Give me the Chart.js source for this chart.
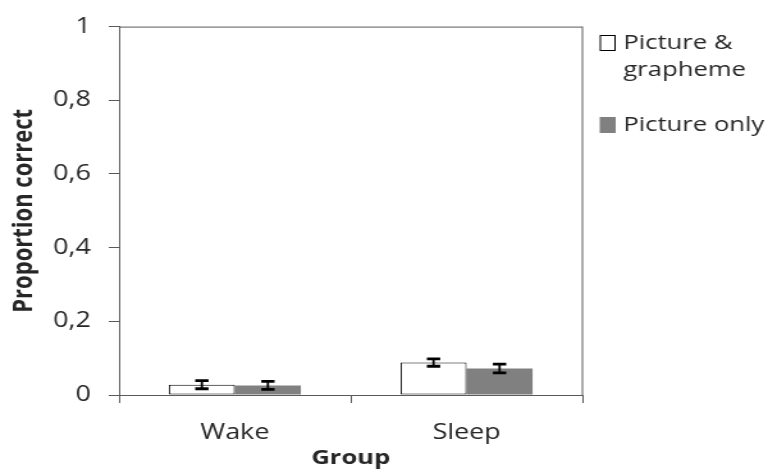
<!DOCTYPE html>
<html>
<head>
<meta charset="utf-8">
<script src="https://cdn.jsdelivr.net/npm/chart.js@4.4.1/dist/chart.umd.min.js"></script>
<style>
  html, body { margin: 0; padding: 0; background: #fff; overflow: hidden; }
</style>
</head>
<body>
<canvas id="c" width="600" height="473" style="display:block;width:768px;height:473px"></canvas>
<script>
// Proportion correct per group, with standard errors
const groups = ['Wake', 'Sleep'];
const seriesNames = ['Picture & grapheme', 'Picture only'];
const pictureGrapheme = [0.028, 0.088];
const pictureGraphemeErr = [0.011, 0.010];
const pictureOnly = [0.026, 0.072];
const pictureOnlyErr = [0.011, 0.012];
const yTicks = [0, 0.2, 0.4, 0.6, 0.8, 1];

const FONT = '"Open Sans", "DejaVu Sans", sans-serif';
const TEXT = '#262626';
const AXIS = '#5a5a5a';

// vertical error bars with caps
const errorBars = {
  id: 'errorBars',
  afterDatasetsDraw(chart) {
    const ctx = chart.ctx;
    const y = chart.scales.y;
    ctx.save();
    ctx.strokeStyle = '#000';
    chart.data.datasets.forEach((ds, i) => {
      const meta = chart.getDatasetMeta(i);
      meta.data.forEach((bar, j) => {
        const v = ds.data[j], e = ds.errors[j];
        const yHi = y.getPixelForValue(v + e);
        const yLo = y.getPixelForValue(v - e);
        ctx.lineWidth = 1.8;
        ctx.beginPath();
        ctx.moveTo(bar.x, yHi);
        ctx.lineTo(bar.x, yLo);
        ctx.stroke();
        ctx.lineWidth = 2.8;
        ctx.beginPath();
        ctx.moveTo(bar.x - 5.2, yHi); ctx.lineTo(bar.x + 5.2, yHi);
        ctx.moveTo(bar.x - 5.2, yLo); ctx.lineTo(bar.x + 5.2, yLo);
        ctx.stroke();
      });
    });
    ctx.restore();
  }
};

// top and right edges of the plot area
const plotFrame = {
  id: 'plotFrame',
  beforeDatasetsDraw(chart) {
    const { ctx, chartArea: a } = chart;
    ctx.save();
    ctx.strokeStyle = AXIS;
    ctx.lineWidth = 1;
    ctx.beginPath();
    ctx.moveTo(a.left, a.top + 0.5);
    ctx.lineTo(a.right, a.top + 0.5);
    ctx.moveTo(a.right, a.top);
    ctx.lineTo(a.right, a.bottom);
    ctx.stroke();
    ctx.restore();
  }
};

// legend at the right with wrapped labels
const sideLegend = {
  id: 'sideLegend',
  afterDraw(chart) {
    const ctx = chart.ctx;
    const boxX = 468.5, textX = 487, maxW = 112, lineH = 27;
    let y = 43;
    ctx.save();
    ctx.font = '20px ' + FONT;
    ctx.textBaseline = 'middle';
    ctx.fillStyle = TEXT;
    chart.data.datasets.forEach((ds) => {
      // swatch
      ctx.fillStyle = ds.backgroundColor;
      ctx.fillRect(boxX, y - 8, 12.5, 16);
      if (ds.borderWidth) {
        ctx.strokeStyle = '#000';
        ctx.lineWidth = 1;
        ctx.strokeRect(boxX + 0.5, y - 7.5, 11.5, 15);
      }
      // wrap words
      const words = ds.label.split(' ');
      const lines = [];
      let cur = '';
      words.forEach(w => {
        const t = cur ? cur + ' ' + w : w;
        if (ctx.measureText(t).width > maxW && cur) { lines.push(cur); cur = w; }
        else cur = t;
      });
      lines.push(cur);
      ctx.fillStyle = TEXT;
      lines.forEach((ln, k) => ctx.fillText(ln, textX, y + k * lineH));
      y += lines.length * lineH + 28;
    });
    ctx.restore();
  }
};

new Chart(document.getElementById('c'), {
  type: 'bar',
  data: {
    labels: groups,
    datasets: [
      {
        label: seriesNames[0],
        data: pictureGrapheme,
        errors: pictureGraphemeErr,
        backgroundColor: '#ffffff',
        borderColor: '#000000',
        borderWidth: 1,
        borderSkipped: false
      },
      {
        label: seriesNames[1],
        data: pictureOnly,
        errors: pictureOnlyErr,
        backgroundColor: '#808080',
        borderWidth: 0
      }
    ]
  },
  options: {
    responsive: false,
    animation: false,
    devicePixelRatio: 1,
    categoryPercentage: 0.57,
    barPercentage: 1.0,
    layout: { padding: { left: 0, right: 145, top: 19, bottom: 0 } },
    plugins: { legend: { display: false }, tooltip: { enabled: false } },
    scales: {
      x: {
        offset: true,
        grid: { offset: true, drawOnChartArea: false, tickLength: 8, color: AXIS },
        border: { color: AXIS, width: 1 },
        ticks: { font: { family: FONT, size: 21 }, color: TEXT, padding: 17 },
        title: {
          display: true, text: 'Group', color: TEXT,
          font: { family: FONT, size: 20, weight: 'bold' },
          padding: { top: 0, bottom: 3 }
        },
        afterFit(s) { s.height = 78; }
      },
      y: {
        min: 0, max: 1,
        afterBuildTicks(s) { s.ticks = yTicks.map(v => ({ value: v })); },
        grid: { drawOnChartArea: false, tickLength: 8, color: AXIS },
        border: { color: AXIS, width: 1 },
        ticks: {
          font: { family: FONT, size: 21 }, color: TEXT, padding: 14,
          callback: v => String(v).replace('.', ',')
        },
        title: {
          display: true, text: 'Proportion correct', color: TEXT,
          font: { family: FONT, size: 22, weight: 'bold' },
          padding: { top: 6, bottom: 0 }
        },
        afterFit(s) { s.width = 93; }
      }
    }
  },
  plugins: [errorBars, plotFrame, sideLegend]
});
</script>
</body>
</html>
